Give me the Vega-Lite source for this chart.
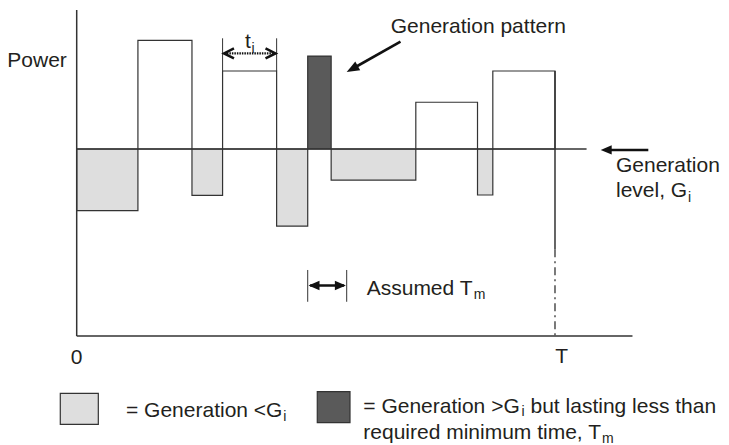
{
  "$schema": "https://vega.github.io/schema/vega-lite/v6.json",
  "width": 729,
  "height": 445,
  "padding": 0,
  "autosize": {"type": "none"},
  "background": "white",
  "config": {"view": {"stroke": null}, "text": {"font": "Liberation Sans"}},
  "datasets": {
    "blocks": [
      {"t": 0, "t2": 12.8, "p": 67, "kind": "below"},
      {"t": 12.8, "t2": 24.1, "p": 158.1, "kind": "above"},
      {"t": 24.1, "t2": 30.5, "p": 75.2, "kind": "below"},
      {"t": 30.5, "t2": 41.8, "p": 141.7, "kind": "above"},
      {"t": 41.8, "t2": 48.3, "p": 58.8, "kind": "below"},
      {"t": 48.3, "t2": 53.2, "p": 149.7, "kind": "short"},
      {"t": 53.2, "t2": 70.9, "p": 83.4, "kind": "below"},
      {"t": 70.9, "t2": 83.8, "p": 125, "kind": "above"},
      {"t": 83.8, "t2": 87.0, "p": 75.4, "kind": "below"},
      {"t": 87.0, "t2": 100, "p": 141.7, "kind": "above"}
    ],
    "legendBoxes": [
      {"t": -3.43, "t2": 4.52, "p": -30.64, "p2": -47.22, "kind": "below"},
      {"t": 50.3, "t2": 57.14, "p": -29.79, "p2": -46.36, "kind": "short"}
    ],
    "solid": [
      {"t": 0, "t2": 0, "p": 0, "p2": 174.3},
      {"t": 0, "t2": 116.2, "p": 0, "p2": 0},
      {"t": 0, "t2": 106.6, "p": 100, "p2": 100},
      {"t": 100, "t2": 100, "p": 141.7, "p2": 46.4}
    ],
    "dashdot": [
      {"t": 100, "t2": 100, "p": 46.4, "p2": 0}
    ],
    "bars": [
      {"t": 30.5, "t2": 30.5, "p": 141.7, "p2": 159.2},
      {"t": 41.8, "t2": 41.8, "p": 141.7, "p2": 159.2},
      {"t": 48.3, "t2": 48.3, "p": 18.3, "p2": 35.3},
      {"t": 56.45, "t2": 56.45, "p": 18.3, "p2": 35.3}
    ],
    "shafts": [
      {"t": 48.8, "t2": 55.9, "p": 27.0, "p2": 27.0},
      {"t": 67.7, "t2": 57.56, "p": 157.38, "p2": 142.78},
      {"t": 111.0, "t2": 119.51, "p": 99.5, "p2": 99.5}
    ],
    "dotted": [
      {"t": 31.4, "t2": 41.0, "p": 151.1, "p2": 151.1}
    ],
    "headsLeft": [
      {"t": 48.46, "p": 27.0},
      {"t": 109.55, "p": 99.5}
    ],
    "headsRight": [
      {"t": 56.28, "p": 27.0}
    ],
    "headPattern": [
      {"t": 56.45, "p": 141.18}
    ],
    "chevLeft": [
      {"t": 30.79, "p": 151.1}
    ],
    "chevRight": [
      {"t": 41.57, "p": 151.1}
    ],
    "labels": [
      {"t": -14.51, "p": 144.0, "label": "Power"},
      {"t": 35.19, "p": 153.85, "label": "t"},
      {"t": 65.65, "p": 161.87, "label": "Generation pattern"},
      {"t": 112.75, "p": 87.86, "label": "Generation"},
      {"t": 112.75, "p": 74.49, "label": "level, G"},
      {"t": 60.63, "p": 22.19, "label": "Assumed T"},
      {"t": 10.31, "p": -43.16, "label": "= Generation <G"},
      {"t": 59.92, "p": -41.34, "label": "= Generation >G"},
      {"t": 94.88, "p": -41.34, "label": "but lasting less than"},
      {"t": 59.92, "p": -55.08, "label": "required minimum time, T"}
    ],
    "ticks": [
      {"t": 0, "p": -14.97, "label": "0"},
      {"t": 101.4, "p": -14.6, "label": "T"}
    ],
    "subs": [
      {"t": 36.55, "p": 151.3, "label": "i"},
      {"t": 127.8, "p": 71.66, "label": "i"},
      {"t": 83.0, "p": 19.79, "label": "m"},
      {"t": 43.2, "p": -45.72, "label": "i"},
      {"t": 92.99, "p": -42.78, "label": "i"},
      {"t": 109.85, "p": -57.22, "label": "m"}
    ]
  },
  "encoding": {
    "x": {"field": "t", "type": "quantitative", "scale": {"domain": [-16.036, 136.38], "nice": false, "zero": false}, "axis": null},
    "y": {"field": "p", "type": "quantitative", "scale": {"domain": [-58.29, 179.68], "nice": false, "zero": false}, "axis": null}
  },
  "layer": [
    {
      "data": {"name": "blocks"},
      "mark": {"type": "rect", "stroke": "#333333", "strokeWidth": 1.2},
      "encoding": {
        "x2": {"field": "t2"},
        "y2": {"datum": 100},
        "fill": {"field": "kind", "type": "nominal", "scale": {"domain": ["below", "short", "above"], "range": ["#dedede", "#5a5a5a", "#ffffff"]}, "legend": null}
      }
    },
    {
      "data": {"name": "legendBoxes"},
      "mark": {"type": "rect", "stroke": "#333333", "strokeWidth": 1.2},
      "encoding": {
        "x2": {"field": "t2"},
        "y2": {"field": "p2"},
        "fill": {"field": "kind", "type": "nominal", "scale": {"domain": ["below", "short", "above"], "range": ["#dedede", "#5a5a5a", "#ffffff"]}, "legend": null}
      }
    },
    {
      "data": {"name": "solid"},
      "mark": {"type": "rule", "stroke": "#333333", "strokeWidth": 1.5},
      "encoding": {"x2": {"field": "t2"}, "y2": {"field": "p2"}}
    },
    {
      "data": {"name": "dashdot"},
      "mark": {"type": "rule", "stroke": "#333333", "strokeWidth": 1.3, "strokeDash": [8, 4, 2, 4]},
      "encoding": {"x2": {"field": "t2"}, "y2": {"field": "p2"}}
    },
    {
      "data": {"name": "bars"},
      "mark": {"type": "rule", "stroke": "#333333", "strokeWidth": 1},
      "encoding": {"x2": {"field": "t2"}, "y2": {"field": "p2"}}
    },
    {
      "data": {"name": "shafts"},
      "mark": {"type": "rule", "stroke": "#111111", "strokeWidth": 2.6},
      "encoding": {"x2": {"field": "t2"}, "y2": {"field": "p2"}}
    },
    {
      "data": {"name": "dotted"},
      "mark": {"type": "rule", "stroke": "#111111", "strokeWidth": 2.2, "strokeDash": [1.5, 1]},
      "encoding": {"x2": {"field": "t2"}, "y2": {"field": "p2"}}
    },
    {
      "data": {"name": "headsLeft"},
      "mark": {"type": "point", "shape": "M0,0L2,-0.85L2,0.85Z", "filled": true, "color": "#111111", "size": 121, "opacity": 1, "strokeWidth": 0}
    },
    {
      "data": {"name": "headsRight"},
      "mark": {"type": "point", "shape": "M0,0L-2,-0.85L-2,0.85Z", "filled": true, "color": "#111111", "size": 121, "opacity": 1, "strokeWidth": 0}
    },
    {
      "data": {"name": "headPattern"},
      "mark": {"type": "point", "shape": "M0,0L-2,-0.8L-2,0.8Z", "filled": true, "color": "#111111", "size": 160, "opacity": 1, "strokeWidth": 0, "angle": 151}
    },
    {
      "data": {"name": "chevLeft"},
      "mark": {"type": "point", "shape": "M2,-1L0,0L2,1", "filled": false, "stroke": "#111111", "strokeWidth": 2.5, "size": 100, "opacity": 1}
    },
    {
      "data": {"name": "chevRight"},
      "mark": {"type": "point", "shape": "M-2,-1L0,0L-2,1", "filled": false, "stroke": "#111111", "strokeWidth": 2.5, "size": 100, "opacity": 1}
    },
    {
      "data": {"name": "labels"},
      "mark": {"type": "text", "align": "left", "baseline": "alphabetic", "fontSize": 21, "color": "#231f20"},
      "encoding": {"text": {"field": "label"}}
    },
    {
      "data": {"name": "ticks"},
      "mark": {"type": "text", "align": "center", "baseline": "alphabetic", "fontSize": 21, "color": "#231f20"},
      "encoding": {"text": {"field": "label"}}
    },
    {
      "data": {"name": "subs"},
      "mark": {"type": "text", "align": "left", "baseline": "alphabetic", "fontSize": 14, "color": "#231f20"},
      "encoding": {"text": {"field": "label"}}
    }
  ]
}
